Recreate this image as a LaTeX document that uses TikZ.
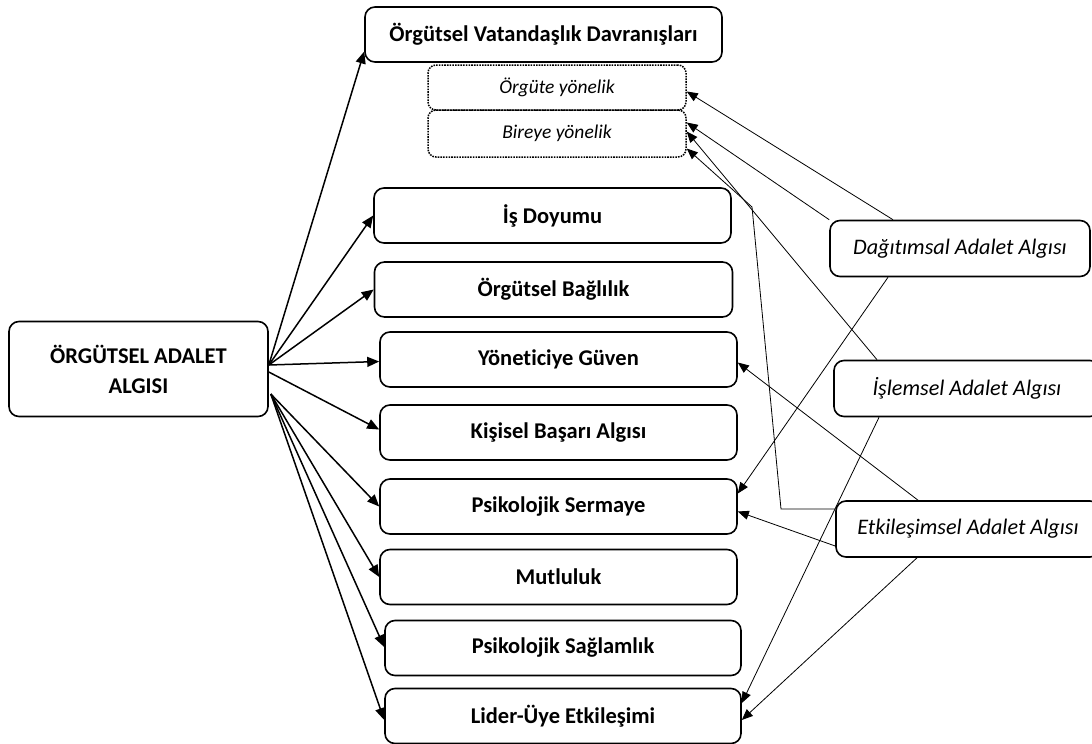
\documentclass[tikz,border=0pt]{standalone}
\usepackage{fontspec}
\setmainfont{Carlito}[Ligatures=NoCommon]
\usetikzlibrary{arrows.meta, calc}

\begin{document}
\begin{tikzpicture}[x=1pt,y=-1pt,
  box/.style={draw,line width=1.6pt,rounded corners=10pt,minimum height=55pt,
    inner sep=0pt,font=\bfseries\fontsize{22.5}{30}\selectfont},
  subbox/.style={draw,dash pattern=on 1.6pt off 1.1pt,line width=1.5pt,rounded corners=8pt,
    minimum width=258pt,inner sep=0pt,font=\itshape\fontsize{19.5}{22}\selectfont},
  sidebox/.style={draw,line width=1.6pt,rounded corners=10pt,minimum height=56pt,
    inner sep=0pt,font=\itshape\fontsize{22.2}{26}\selectfont},
  thick arrow/.style={-{Triangle[length=12pt,width=10pt]},line width=1.5pt},
  thin arrow/.style={-{Triangle[length=11pt,width=9pt]},line width=0.8pt}]
  %\draw (0,0) grid[step=100] (1092,744);
  \useasboundingbox (0,0) rectangle (1092,744);

  \node[box,minimum width=259pt,minimum height=95pt,align=center] (adalet) at (138.5,369)
    {ÖRGÜTSEL ADALET\\ALGISI};

  \node[box,minimum width=357pt] (ovd)   at (543.5,34.5)  {Örgütsel Vatandaşlık Davranışları};
  \node[subbox,minimum height=45pt] (orgute) at (557,87.5)  {Örgüte yönelik};
  \node[subbox,minimum height=47pt] (bireye) at (557,133.5) {Bireye yönelik};
  \node[box,minimum width=357pt] (isd)   at (552.5,215.5) {İş Doyumu};
  \node[box,minimum width=358pt] (ob)    at (553.5,289.5) {Örgütsel Bağlılık};
  \node[box,minimum width=357pt] (yg)    at (558.5,359.5) {Yöneticiye Güven};
  \node[box,minimum width=357pt] (kb)    at (558.5,432.5) {Kişisel Başarı Algısı};
  \node[box,minimum width=357pt] (ps)    at (558.5,506.5) {Psikolojik Sermaye};
  \node[box,minimum width=357pt] (mut)   at (558.5,577)   {Mutluluk};
  \node[box,minimum width=356pt] (psag)  at (563,648)     {Psikolojik Sağlamlık};
  \node[box,minimum width=356pt] (lider) at (563,716)     {Lider-Üye Etkileşimi};

  \node[sidebox,minimum width=260pt] (dag) at (960,248.5) {Dağıtımsal Adalet Algısı};
  \node[sidebox,minimum width=266pt] (isl) at (967,388.5) {İşlemsel Adalet Algısı};
  \node[sidebox,minimum width=264pt] (etk) at (968,529)   {Etkileşimsel Adalet Algısı};

  % from the main box
  \coordinate (up) at ($(adalet.east)+(0,-4)$);
  \coordinate (lo) at ($(adalet.east)+(2,25)$);
  \draw[thick arrow] (up) -- ([yshift=-17pt]ovd.west);
  \draw[thick arrow] (up) -- (isd.west);
  \draw[thick arrow] (up) -- (ob.west);
  \draw[thick arrow] (up) -- ([yshift=-2pt]yg.west);
  \draw[thick arrow] ($(adalet.east)+(0,3)$) -- ([yshift=3pt]kb.west);
  \draw[thick arrow] (lo) -- (ps.west);
  \draw[thick arrow] (lo) -- (mut.west);
  \draw[thick arrow] (lo) -- ([yshift=1pt]psag.west);
  \draw[thick arrow] (lo) -- ([yshift=-4pt]lider.west);

  % Dagitimsal
  \draw[thin arrow] ($(dag.north)+(-67,0)$) -- ([yshift=-4pt]orgute.east);
  \draw[thin arrow] (dag.north west) -- ([yshift=11pt]bireye.east);
  \draw[thin arrow] ($(dag.south)+(-72,0)$) -- ([yshift=13pt]ps.east);

  % Islemsel
  \draw[thin arrow] ($(isl.north)+(-90,0)$) -- ([yshift=2pt]bireye.east);
  \draw[thin arrow] ($(isl.south)+(-88,0)$) -- ([yshift=13pt]lider.east);

  % Etkilesimsel
  \coordinate (k1) at (781,509);
  \coordinate (k2) at (752,207);
  \draw[thin arrow] ([yshift=20pt]etk.west) -- (k1) -- (k2) -- ([yshift=-15pt]bireye.east);
  \draw[thin arrow] ($(etk.north)+(-50,0)$) -- ([yshift=-3pt]yg.east);
  \draw[thin arrow] ([yshift=-17pt]etk.west) -- ([yshift=-5pt]ps.east);
  \draw[thin arrow] ($(etk.south)+(-51,0)$) -- ([yshift=-4pt]lider.east);
\end{tikzpicture}
\end{document}
